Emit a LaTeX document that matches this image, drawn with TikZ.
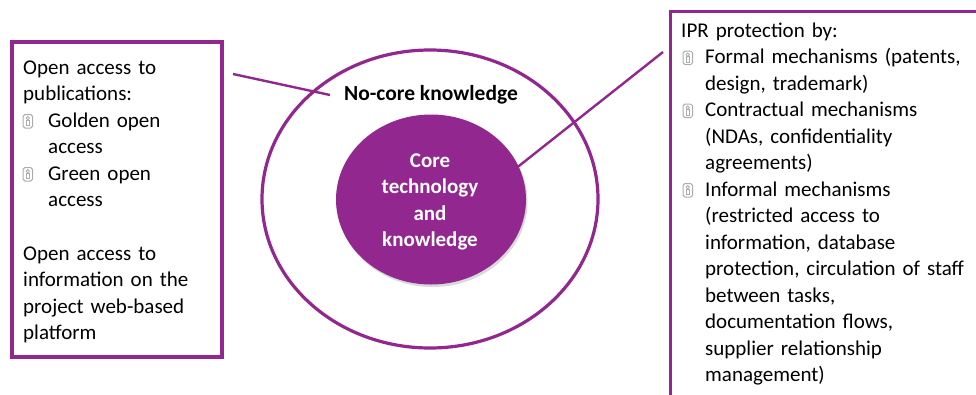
\documentclass[tikz,border=0pt]{standalone}
\usepackage{fontspec}
\setmainfont{Carlito}
\usetikzlibrary{shapes.geometric,shadows}
\definecolor{purp}{RGB}{146,39,143}
\begin{document}
\begin{tikzpicture}[x=1pt,y=-1pt,
  frame/.style={draw=purp, line width=3.2pt},
  ring/.style={draw=purp, line width=3.2pt, ellipse},
  link/.style={draw=purp, line width=2.4pt},
  txt/.style={anchor=north west, inner sep=0pt, align=left, text width=300pt,
    font=\fontsize{21}{26.5}\selectfont},
  bul/.pic={
    \draw[gray!65, line width=1pt, rounded corners=1.8pt] (0,1) rectangle (9.5,-12.5);
    \draw[gray!65, line width=0.8pt] (4.75,-8.8) circle (1.7);
    \draw[gray!65, line width=0.8pt] (3.2,-1.6) rectangle (6.3,-6.8);
  }]
\useasboundingbox (0,0) rectangle (976,394);

% left box
\node[frame, minimum width=210pt, minimum height=315pt, inner sep=0pt] (leftbox) at (117,199.5) {};
\node[txt] (lefttext) at (23,55.45) {\strut Open access to\\
publications:\\
\hspace*{25pt}Golden open\\
\hspace*{25pt}access\\
\hspace*{25pt}Green open\\
\hspace*{25pt}access\\[27pt]
Open access to\\
information on the\\
project web-based\\
platform};
\pic at (23,127) {bul};
\pic at (23,180) {bul};

% right box (cut by the picture edge)
\node[frame, minimum width=330pt, minimum height=420pt, inner sep=0pt, anchor=north west] (rightbox) at (669,10) {};
\node[txt] (righttext) at (681,18.45) {\strut IPR protection by:\\
\hspace*{24pt}Formal mechanisms (patents,\\
\hspace*{24pt}design, trademark)\\
\hspace*{24pt}Contractual mechanisms\\
\hspace*{24pt}(NDAs, confidentiality\\
\hspace*{24pt}agreements)\\
\hspace*{24pt}Informal mechanisms\\
\hspace*{24pt}(restricted access to\\
\hspace*{24pt}information, database\\
\hspace*{24pt}protection, circulation of staff\\
\hspace*{24pt}between tasks,\\
\hspace*{24pt}documentation flows,\\
\hspace*{24pt}supplier relationship\\
\hspace*{24pt}management)};
\pic at (683,63.5) {bul};
\pic at (683,116.5) {bul};
\pic at (683,196) {bul};

% circles
\node[ring, minimum width=336pt, minimum height=298pt, inner sep=0pt] (outer) at (430,199) {};
\node[ellipse, fill=purp, minimum width=190pt, minimum height=170pt, inner sep=0pt,
  drop shadow={opacity=0.3, shadow xshift=1.5pt, shadow yshift=-2.5pt}] (core) at (431,199.5) {};
\node[anchor=base, inner sep=0pt, font=\fontsize{21.5}{26.5}\selectfont\bfseries] (nocore) at (431,100) {No-core knowledge};
\node[anchor=north, inner sep=0pt, align=center, text width=160pt, text=white,
  font=\fontsize{21}{26.5}\selectfont\bfseries] (coretext) at (430,148.5) {\strut Core\\ technology\\ and\\ knowledge};

% connectors
\coordinate (lstart) at (233,74);
\coordinate (lend) at (330,95);
\coordinate (rstart) at (663,52);
\coordinate (rend) at (505,177);
\draw[link] (lstart) -- (lend);
\draw[link] (rstart) -- (rend);
\end{tikzpicture}
\end{document}
